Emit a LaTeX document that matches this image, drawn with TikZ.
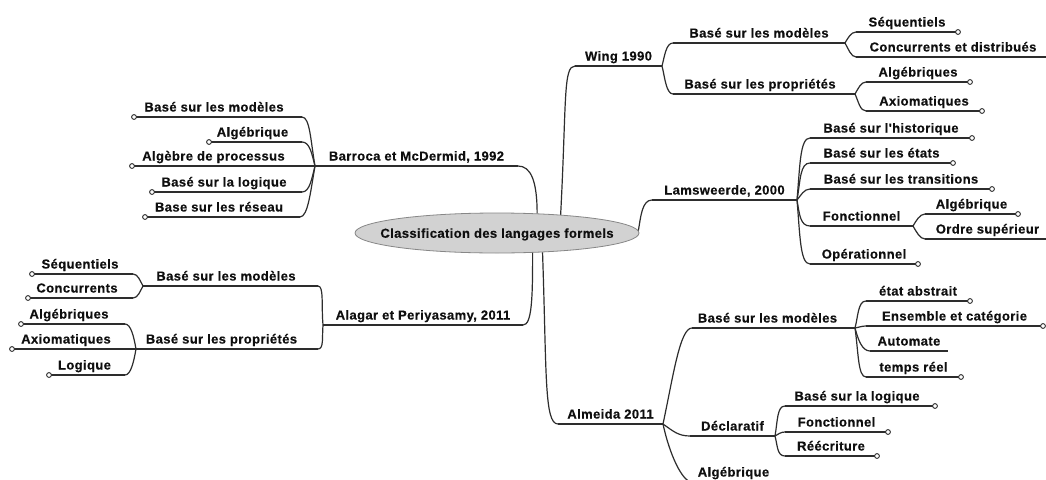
\documentclass[tikz,border=0pt]{standalone}
\usepackage{fontspec}
\newfontfamily\lblfam{Liberation Sans}[LetterSpace=3,FakeBold=0.4]
\usetikzlibrary{shapes.geometric}
\definecolor{ln}{RGB}{45,45,45}
\definecolor{tx}{RGB}{15,15,15}
\definecolor{efill}{RGB}{210,210,210}
\definecolor{edraw}{RGB}{135,135,135}
\tikzset{
 lblfont/.style={font=\lblfam\bfseries\fontsize{13}{15}\selectfont, text=tx},
 lbl/.style={lblfont, inner xsep=0pt, inner ysep=0pt, outer sep=0pt, text height=9.5pt, text depth=5.5pt, anchor=south west},
 uline/.style={draw=ln, line width=1.2pt},
 conn/.style={draw=ln, line width=1.2pt},
 tipdot/.style={draw=ln, line width=0.9pt, fill=white},
 centre/.style={ellipse, draw=edraw, fill=efill, line width=0.8pt, minimum width=284pt, minimum height=40pt, inner sep=0pt, lblfont, text height=9.5pt, text depth=0pt},
}
\newcommand\mmnode[5]{\node[lbl, minimum width={#3pt-#2pt}] (#1) at (#2pt,-#4pt) {#5};\draw[uline] (#1.south west) -- (#1.south east);}
\newcommand\dotR[1]{\draw[tipdot] (#1.south east) circle (2.4pt);}
\newcommand\dotL[1]{\draw[tipdot] (#1.south west) circle (2.4pt);}
\begin{document}
\begin{tikzpicture}[x=1pt,y=1pt]
\useasboundingbox (0,0) rectangle (1046,-479);
\fill[white] (0,0) rectangle (1046,-479);

\node[centre] (C) at (497,-233) {\makebox[0pt]{Classification des langages formels}};

% right: Wing
\mmnode{wing}{575}{662}{66}{Wing 1990}
\mmnode{wBM}{673}{845}{43}{Basé sur les modèles}
\mmnode{wBP}{673}{855}{94}{\kern-8pt Basé sur les propriétés}
\mmnode{wSeq}{856}{958}{32}{Séquentiels}
\mmnode{wCon}{856}{1050}{57}{Concurrents et distribués}
\mmnode{wAlg}{866}{970}{82}{Algébriques}
\mmnode{wAx}{866}{982}{111}{Axiomatiques}
% right: Lamsweerde
\mmnode{lam}{652}{797}{200}{Lamsweerde, 2000}
\mmnode{lHist}{810}{972}{138}{Basé sur l'historique}
\mmnode{lEt}{810}{953}{163}{Basé sur les états}
\mmnode{lTr}{810}{992}{189}{Basé sur les transitions}
\mmnode{lFo}{810}{913}{226}{Fonctionnel}
\mmnode{lOp}{810}{918}{264}{Opérationnel}
\mmnode{lAlg}{925}{1018}{214}{Algébrique}
\mmnode{lOrd}{925}{1050}{239}{Ordre supérieur}
% right: Almeida
\mmnode{alm}{558}{663}{424}{Almeida 2011}
\mmnode{mBM}{692}{855}{328}{\kern-12pt Basé sur les modèles}
\mmnode{mDe}{690}{775}{436}{Déclaratif}
\mmnode{mAl}{692}{775}{482}{Algébrique}
\mmnode{mEt}{866}{970}{301}{état abstrait}
\mmnode{mEn}{866}{1043}{326}{Ensemble et catégorie}
\mmnode{mAu}{870}{948}{351}{Automate}
\mmnode{mTr}{866}{961}{377}{temps réel}
\mmnode{mLo}{785}{935}{406}{\kern-6pt Basé sur la logique}
\mmnode{mFo}{785}{888}{432}{Fonctionnel}
\mmnode{mRe}{785}{877}{456}{Réécriture}
% left: Barroca
\mmnode{bar}{315}{518}{166}{Barroca et McDermid, 1992}
\mmnode{bBM}{134}{302}{117}{\kern-8pt Basé sur les modèles}
\mmnode{bAlg}{209}{302}{142}{\kern-6pt Algébrique}
\mmnode{bAP}{132}{295}{166}{Algèbre de processus}
\mmnode{bLo}{152}{302}{192}{\kern-6pt Basé sur la logique}
\mmnode{bRe}{145}{300}{217}{\kern-7pt Base sur les réseau}
% left: Alagar
\mmnode{ala}{323}{523}{325}{Alagar et Periyasamy, 2011}
\mmnode{aBM}{143}{318}{286}{\kern-9pt Basé sur les modèles}
\mmnode{aBP}{136}{318}{349}{\kern-11pt Basé sur les propriétés}
\mmnode{aSe}{32}{133}{274}{\kern-5pt Séquentiels}
\mmnode{aCo}{28}{133}{298}{\kern-7pt Concurrents}
\mmnode{aAl}{21}{125}{324}{\kern-8pt Algébriques}
\mmnode{aAx}{12}{120}{349}{Axiomatiques}
\mmnode{aLo}{49}{125}{375}{\kern-5pt Logique}

% main branches
\draw[conn] (C.16.8) to[out=87,in=180,out distance=114pt,in distance=12pt] (wing.south west);
\draw[conn] (bar.south east) to[out=0,in=90,out distance=13pt,in distance=32pt] (C.26.9);
\draw[conn] (C.1.7) to[out=80,in=180,out distance=14pt,in distance=10pt] (lam.south west);
\draw[conn] (ala.south east) to[out=0,in=-90,out distance=9pt,in distance=45pt] (C.-29);
\draw[conn] (C.-23.4) to[out=-88,in=180,out distance=120pt,in distance=14pt] (alm.south west);

% Wing
\draw[conn] (wing.south east) to[out=75,in=180,out distance=10pt,in distance=7pt] (wBM.south west);
\draw[conn] (wing.south east) to[out=-75,in=180,out distance=10pt,in distance=7pt] (wBP.south west);
\draw[conn] (wBM.south east) to[out=60,in=180,out distance=5pt,in distance=5pt] (wSeq.south west);
\draw[conn] (wBM.south east) to[out=-60,in=180,out distance=6pt,in distance=5pt] (wCon.south west);
\draw[conn] (wBP.south east) to[out=60,in=180,out distance=6pt,in distance=5pt] (wAlg.south west);
\draw[conn] (wBP.south east) to[out=-65,in=180,out distance=8pt,in distance=6pt] (wAx.south west);

% Lamsweerde
\draw[conn] (lam.south east) to[out=85,in=180,out distance=35pt,in distance=10pt] (lHist.south west);
\draw[conn] (lam.south east) to[out=80,in=180,out distance=20pt,in distance=10pt] (lEt.south west);
\draw[conn] (lam.south east) to[out=50,in=180,out distance=6pt,in distance=6pt] (lTr.south west);
\draw[conn] (lam.south east) to[out=-80,in=180,out distance=14pt,in distance=10pt] (lFo.south west);
\draw[conn] (lam.south east) to[out=-85,in=180,out distance=35pt,in distance=10pt] (lOp.south west);
\draw[conn] (lFo.south east) to[out=60,in=180,out distance=6pt,in distance=5pt] (lAlg.south west);
\draw[conn] (lFo.south east) to[out=-60,in=180,out distance=6pt,in distance=5pt] (lOrd.south west);

% Almeida
\draw[conn] (alm.south east) to[out=78,in=180,out distance=50pt,in distance=12pt] (mBM.south west);
\draw[conn] (alm.south east) to[out=-35,in=180,out distance=12pt,in distance=12pt] (mDe.south west);
\draw[conn] (alm.south east) to[out=-78,in=180,out distance=30pt,in distance=10pt] (mAl.south west);
\draw[conn] (mBM.south east) to[out=75,in=180,out distance=12pt,in distance=8pt] (mEt.south west);
\draw[conn] (mBM.south east) to[out=10,in=180,out distance=4pt,in distance=4pt] (mEn.south west);
\draw[conn] (mBM.south east) to[out=-75,in=180,out distance=12pt,in distance=8pt] (mAu.south west);
\draw[conn] (mBM.south east) to[out=-82,in=180,out distance=25pt,in distance=8pt] (mTr.south west);
\draw[conn] (mDe.south east) to[out=80,in=180,out distance=15pt,in distance=8pt] (mLo.south west);
\draw[conn] (mDe.south east) to[out=30,in=180,out distance=4pt,in distance=4pt] (mFo.south west);
\draw[conn] (mDe.south east) to[out=-75,in=180,out distance=10pt,in distance=8pt] (mRe.south west);

% Barroca
\draw[conn] (bar.south west) to[out=100,in=0,out distance=25pt,in distance=8pt] (bBM.south east);
\draw[conn] (bar.south west) to[out=105,in=0,out distance=12pt,in distance=8pt] (bAlg.south east);
\draw[conn] (bar.south west) -- (bAP.south east);
\draw[conn] (bar.south west) to[out=-105,in=0,out distance=12pt,in distance=8pt] (bLo.south east);
\draw[conn] (bar.south west) to[out=-100,in=0,out distance=25pt,in distance=8pt] (bRe.south east);

% Alagar
\draw[conn] (ala.south west) to[out=95,in=0,out distance=20pt,in distance=6pt] (aBM.south east);
\draw[conn] (ala.south west) to[out=-95,in=0,out distance=12pt,in distance=6pt] (aBP.south east);
\draw[conn] (aBM.south west) to[out=120,in=0,out distance=6pt,in distance=5pt] (aSe.south east);
\draw[conn] (aBM.south west) to[out=-120,in=0,out distance=6pt,in distance=5pt] (aCo.south east);
\draw[conn] (aBP.south west) to[out=100,in=0,out distance=12pt,in distance=6pt] (aAl.south east);
\draw[conn] (aBP.south west) -- (aAx.south east);
\draw[conn] (aBP.south west) to[out=-100,in=0,out distance=12pt,in distance=6pt] (aLo.south east);

% end dots
\dotR{wSeq}\dotR{wAlg}\dotR{wAx}
\dotR{lHist}\dotR{lEt}\dotR{lTr}\dotR{lOp}\dotR{lAlg}
\dotR{mEt}\dotR{mEn}\dotR{mTr}\dotR{mLo}\dotR{mFo}\dotR{mRe}
\dotL{bBM}\dotL{bAlg}\dotL{bAP}\dotL{bLo}\dotL{bRe}
\dotL{aSe}\dotL{aCo}\dotL{aAl}\dotL{aAx}\dotL{aLo}
\end{tikzpicture}
\end{document}
